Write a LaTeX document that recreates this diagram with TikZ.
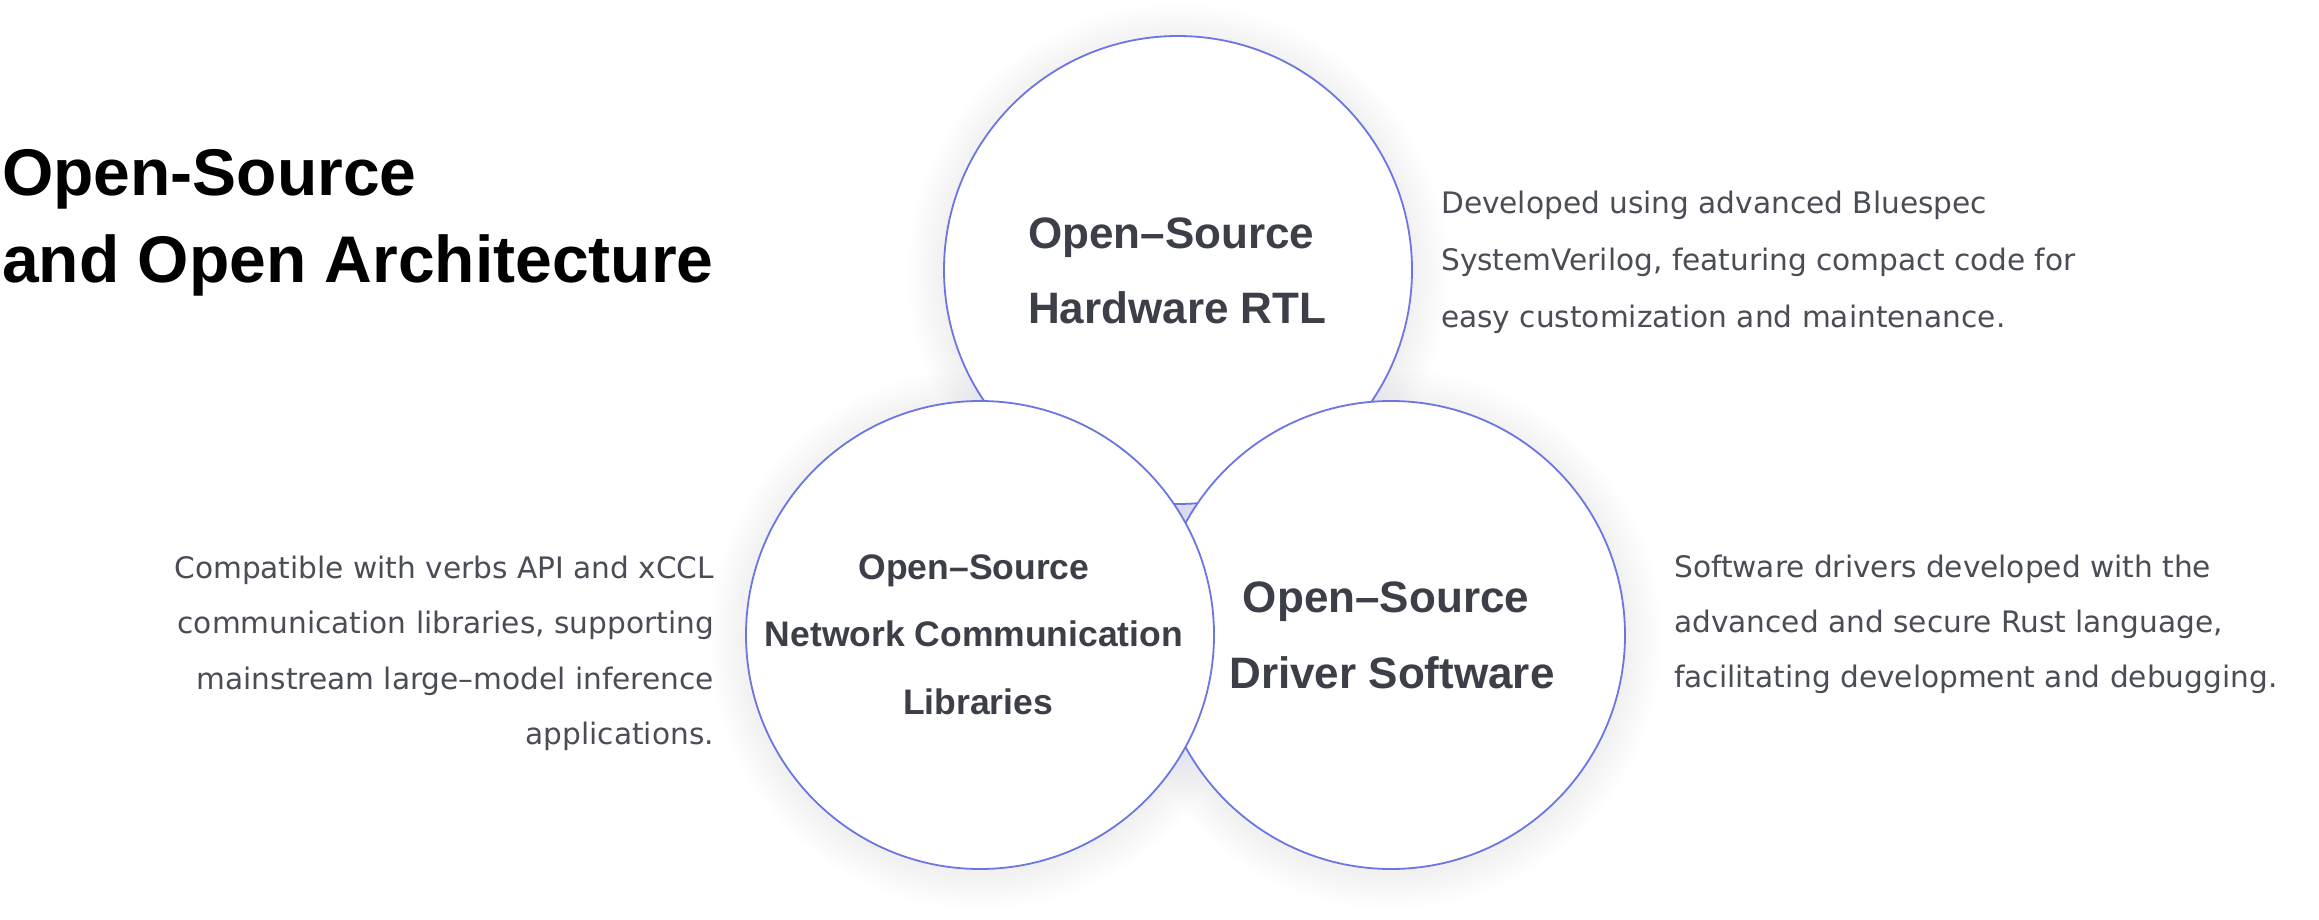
\documentclass[tikz,border=0pt]{standalone}
\usepackage{fontspec}
\setmainfont{Liberation Sans}
\newfontfamily\descfont{DejaVu Sans}

\definecolor{ringblue}{RGB}{108,118,226}
\definecolor{glowblue}{RGB}{110,120,240}
\definecolor{labelgray}{RGB}{60,62,72}
\definecolor{descgray}{RGB}{74,76,86}

\tikzset{
  venn/.style={circle, draw=ringblue, line width=1.8pt, fill=white, minimum size=468pt, inner sep=0pt},
  bigtitle/.style={inner sep=0pt, anchor=base west, font=\bfseries\fontsize{66}{70}\selectfont},
  lbl/.style={inner sep=0pt, text=labelgray, font=\bfseries\fontsize{44}{50}\selectfont},
  lblsmall/.style={inner sep=0pt, text=labelgray, font=\bfseries\fontsize{35.5}{40}\selectfont},
  desc/.style={inner sep=0pt, text=descgray, font=\descfont\fontsize{29.6}{34}\selectfont},
}

\begin{document}
\begin{tikzpicture}[x=1pt,y=-1pt]
\useasboundingbox (0,0) rectangle (2319,920);
\fill[white] (0,0) rectangle (2319,920);

%Title
\node[bigtitle] (title1) at (2,196) {Open-Source};
\node[bigtitle] (title2) at (2,282) {and Open Architecture};

%Glow behind the circles
\foreach \g in {1,...,14} {
  \fill[glowblue, opacity=0.005] (1178,274) circle[radius={234pt+2.6pt*\g}];
  \fill[glowblue, opacity=0.005] (980,639) circle[radius={234pt+2.6pt*\g}];
  \fill[glowblue, opacity=0.005] (1391,639) circle[radius={234pt+2.6pt*\g}];
}

%Circles: top, right, left (left one in front)
\node[venn] (hw) at (1178,270) {};
\node[venn] (drv) at (1391,635) {};
\node[venn] (net) at (980,635) {};

% Labels in the circles
\node[lbl, anchor=base west] (hw1) at (1028,248) {Open–Source};
\node[lbl, anchor=base west] (hw2) at (1028,323) {Hardware RTL};

\node[lblsmall, anchor=base] (net1) at (974,579) {Open–Source};
\node[lblsmall, anchor=base] (net2) at (974,646) {Network Communication};
\node[lblsmall, anchor=base] (net3) at (978,714) {Libraries};

\node[lbl, anchor=base] (drv1) at (1386,612) {Open–Source};
\node[lbl, anchor=base] (drv2) at (1392,688) {Driver Software};

% Text Nodes beside the circles
\node[desc, anchor=base west] (hwd1) at (1441,214) {Developed using advanced Bluespec};
\node[desc, anchor=base west] (hwd2) at (1441,270) {SystemVerilog, featuring compact code for};
\node[desc, anchor=base west] (hwd3) at (1441,327) {easy customization and maintenance.};

\node[desc, anchor=base east] (netd1) at (714,578) {Compatible with verbs API and xCCL};
\node[desc, anchor=base east] (netd2) at (714,633) {communication libraries, supporting};
\node[desc, anchor=base east] (netd3) at (714,689) {mainstream large–model inference};
\node[desc, anchor=base east] (netd4) at (714,744) {applications.};

\node[desc, anchor=base west] (drvd1) at (1674,577) {Software drivers developed with the};
\node[desc, anchor=base west] (drvd2) at (1674,632) {advanced and secure Rust language,};
\node[desc, anchor=base west] (drvd3) at (1674,687) {facilitating development and debugging.};

\end{tikzpicture}
\end{document}
